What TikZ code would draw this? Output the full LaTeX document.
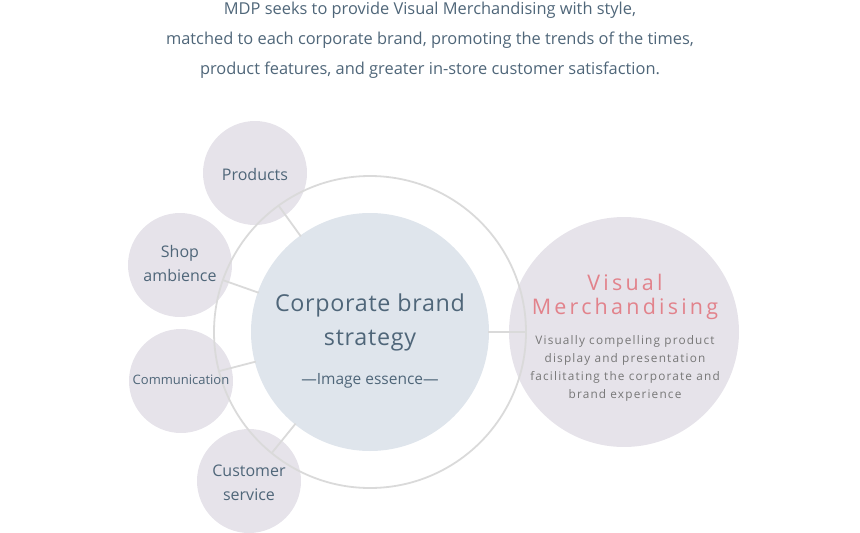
\documentclass[tikz,border=0pt]{standalone}
\usepackage{fontspec}
\setmainfont{Open Sans}
\usetikzlibrary{calc}
\definecolor{txt}{HTML}{4F6679}
\definecolor{cfill}{HTML}{DFE5EC}
\definecolor{sfill}{HTML}{E6E3EA}
\definecolor{ringc}{HTML}{DADADA}
\definecolor{vmred}{HTML}{E2828B}
\definecolor{vmgray}{HTML}{777777}
\tikzset{
  small/.style={circle, fill=sfill, minimum size=104pt, inner sep=0pt},
  smalltxt/.style={text=txt, align=center, font=\fontsize{16}{24}\selectfont},
  link/.style={draw=ringc, line width=1.8pt},
}
\begin{document}
\begin{tikzpicture}[x=1pt,y=-1pt]
\useasboundingbox (0,0) rectangle (860,533);
% intro text
\node[text=txt, align=center, font=\fontsize{16.4}{30}\selectfont] (intro) at (430,40)
 {MDP seeks to provide Visual Merchandising with style,\\
  matched to each corporate brand, promoting the trends of the times,\\
  product features, and greater in-store customer satisfaction.};
% circles
\node[circle, fill=cfill, minimum size=238pt, inner sep=0pt] (core) at (370,332) {};
\node[small] (prod) at (255,173) {};
\node[small] (shop) at (180,265) {};
\node[small] (comm) at (181,381) {};
\node[small] (cust) at (249,481) {};
\node[circle, fill=sfill, minimum size=230pt, inner sep=0pt] (vm) at (624,332) {};
% ring and links
\draw[draw=ringc, line width=1.8pt] (core.center) circle (156);
\foreach \p in {prod,shop,comm,cust,vm}{
  \draw[link] ($(core.center)!118pt!(\p.center)$) -- ($(core.center)!156pt!(\p.center)$);
}
% small circle texts
\node[smalltxt] (prodt) at (255,174) {Products};
\node[smalltxt] (shopt) at (180,263) {Shop\\ambience};
\node[smalltxt, font=\fontsize{13}{18}\selectfont] (commt) at (181,380) {Communication};
\node[smalltxt] (custt) at (249,483) {Customer\\service};
% core text
\node[text=txt, align=center, font=\fontsize{23.3}{34}\selectfont] (ct) at (370,322)
 {\addfontfeature{LetterSpace=3}Corporate brand\\\addfontfeature{LetterSpace=3}strategy};
\node[text=txt, font=\fontsize{15.5}{20}\selectfont] (ie) at (370,381) {—Image essence—};
% vm text
\node[text=vmred, align=center, font=\fontsize{21.5}{24}\selectfont] (vmt) at (625,297)
 {\addfontfeature{LetterSpace=15}Visual\\\addfontfeature{LetterSpace=15}Merchandising};
\node[text=vmgray, align=center, font=\fontsize{11.8}{18}\selectfont] (vmb) at (625,368)
 {\addfontfeature{LetterSpace=10}Visually compelling product\\
  \addfontfeature{LetterSpace=10}display and presentation\\
  \addfontfeature{LetterSpace=10}facilitating the corporate and\\
  \addfontfeature{LetterSpace=10}brand experience};
\end{tikzpicture}
\end{document}
